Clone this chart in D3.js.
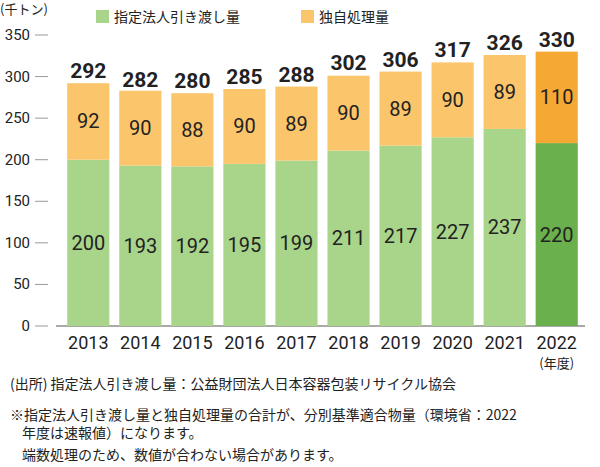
<!DOCTYPE html>
<html><head><meta charset="utf-8">
<script src="https://cdn.jsdelivr.net/npm/d3@7"></script>
<style>body{margin:0;background:#fff}text{font-family:"Noto Sans CJK JP","Noto Sans",sans-serif}.n{font-family:"Liberation Sans Narrow","Roboto",sans-serif}</style>
</head><body><svg id="c" width="600" height="467"></svg>
<script>
const years=["2013","2014","2015","2016","2017","2018","2019","2020","2021","2022"];
const designated=[200,193,192,195,199,211,217,227,237,220];
const own=[92,90,88,90,89,90,89,90,89,110];
const totals=[292,282,280,285,288,302,306,317,326,330];
const yTicks=[0,50,100,150,200,250,300,350];
const svg=d3.select("#c");
const x=d3.scaleBand().domain(years).range([62,583]).paddingInner(0.19).paddingOuter(0.1);
const y=d3.scaleLinear().domain([0,350]).range([326,35]);
const g1=svg.append("g");
yTicks.forEach(t=>{
  g1.append("text").attr("class","n").attr("x",30).attr("y",y(t)+5).attr("text-anchor","end").attr("font-size",15).attr("fill","#222").text(t);
  g1.append("line").attr("x1",35).attr("x2",48).attr("y1",y(t)).attr("y2",y(t)).attr("stroke","#999");
});
svg.append("line").attr("x1",56).attr("x2",585).attr("y1",y(0)).attr("y2",y(0)).attr("stroke","#555");
years.forEach((yr,i)=>{
  const last=i===years.length-1;
  const bx=x(yr),bw=x.bandwidth(),cx=bx+bw/2;
  svg.append("rect").attr("x",bx).attr("width",bw).attr("y",y(designated[i])).attr("height",y(0)-y(designated[i])).attr("fill",last?"#6ab04c":"#a9d58b");
  svg.append("rect").attr("x",bx).attr("width",bw).attr("y",y(designated[i]+own[i])).attr("height",y(designated[i])-y(designated[i]+own[i])).attr("fill",last?"#f5a833":"#fbc56b");
  svg.append("text").attr("class","n").attr("x",cx).attr("y",y(designated[i]/2)+7).attr("text-anchor","middle").attr("font-size",20).attr("fill","#222").text(designated[i]);
  svg.append("text").attr("class","n").attr("x",cx).attr("y",y(designated[i]+own[i]/2)+7).attr("text-anchor","middle").attr("font-size",20).attr("fill","#222").text(own[i]);
  svg.append("text").attr("class","n").attr("x",cx).attr("y",y(totals[i])-5).attr("text-anchor","middle").attr("font-size",21).attr("font-weight","bold").attr("fill","#222").text(totals[i]);
  svg.append("text").attr("class","n").attr("x",cx).attr("y",349).attr("text-anchor","middle").attr("font-size",18).attr("fill","#222").text(yr);
});
svg.append("text").attr("x",x("2022")+x.bandwidth()/2).attr("y",368).attr("text-anchor","middle").attr("font-size",13).attr("fill","#222").text("(年度)");
svg.append("text").attr("x",0).attr("y",14).attr("font-size",13).attr("fill","#222").text("(千トン)");
svg.append("rect").attr("x",96).attr("y",10).attr("width",13).attr("height",13).attr("fill","#a9d58b");
svg.append("text").attr("x",114).attr("y",22).attr("font-size",14).attr("fill","#222").text("指定法人引き渡し量");
svg.append("rect").attr("x",301).attr("y",10).attr("width",13).attr("height",13).attr("fill","#fbc56b");
svg.append("text").attr("x",319).attr("y",22).attr("font-size",14).attr("fill","#222").text("独自処理量");
const notes=[[10,389,"(出所) 指定法人引き渡し量：公益財団法人日本容器包装リサイクル協会"],
[10,420,"※指定法人引き渡し量と独自処理量の合計が、分別基準適合物量（環境省：2022"],
[22,438,"年度は速報値）になります。"],
[22,460,"端数処理のため、数値が合わない場合があります。"]];
notes.forEach(n=>svg.append("text").attr("x",n[0]).attr("y",n[1]).attr("font-size",14).attr("fill","#222").text(n[2]));
</script></body></html>
